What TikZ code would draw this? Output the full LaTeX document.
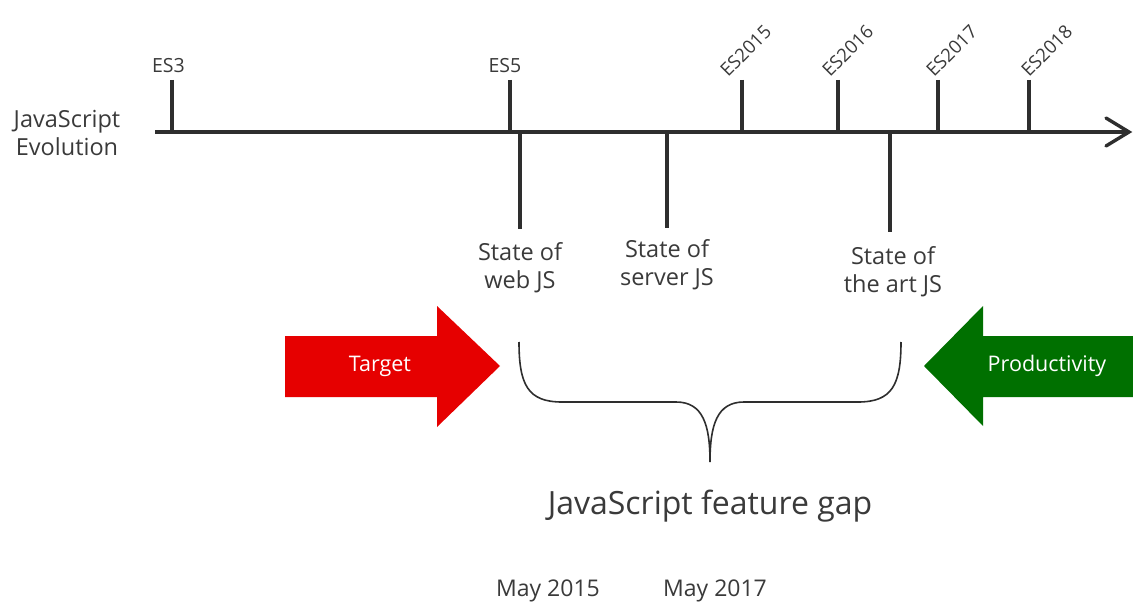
\documentclass[tikz,border=0pt]{standalone}
\usepackage{fontspec}
\setmainfont{Open Sans}
\definecolor{ink}{HTML}{2E2E2E}
\definecolor{txt}{HTML}{3A3A3A}
\definecolor{redarrow}{HTML}{E60000}
\definecolor{greenarrow}{HTML}{007000}
\begin{document}
\begin{tikzpicture}[x=1pt,y=-1pt,
  axisline/.style={draw=ink,line width=3.6pt},
  tickline/.style={draw=ink,line width=3.4pt},
  lbl/.style={text=txt,font=\fontsize{23.5}{28}\selectfont,align=center,inner sep=0pt},
  eslbl/.style={text=txt,font=\fontsize{19.5}{22}\selectfont,inner sep=0pt},
  rotlbl/.style={eslbl,font=\fontsize{18.5}{22}\selectfont,anchor=base west,rotate=45},
  arrowlbl/.style={text=white,font=\fontsize{21.5}{24}\selectfont,inner sep=0pt},
  bracestyle/.style={draw=ink,line width=1.6pt}]
\useasboundingbox[fill=white] (0,0) rectangle (1133,604);
% axis
\coordinate (axs) at (155,132);
\coordinate (axe) at (1129,132);
\draw[axisline] (axs) -- (axe);
\draw[draw=ink,line width=3.4pt,line cap=round,line join=miter] (1106,118) -- (axe) -- (1106,146);
% upper ticks
\foreach \n/\x in {es3/172,es5/510,es15/742,es16/838,es17/938,es18/1029}{
  \coordinate (\n-top) at (\x,80);
  \coordinate (\n-bot) at (\x,132);
  \draw[tickline] (\n-top) -- (\n-bot);
}
\node[eslbl,anchor=base] (l3) at (168.5,73) {ES3};
\node[eslbl,anchor=base] (l5) at (505,73) {ES5};
\node[rotlbl] (l15) at (728,78) {ES2015};
\node[rotlbl] (l16) at (830,78) {ES2016};
\node[rotlbl] (l17) at (934,78) {ES2017};
\node[rotlbl] (l18) at (1029,78) {ES2018};
% left title
\node[lbl,align=center] (title) at (67,133) {JavaScript\\Evolution};
% lower ticks
\foreach \n/\x/\b in {web/520/229,server/667/228,art/890/232}{
  \coordinate (\n-top) at (\x,132);
  \coordinate (\n-bot) at (\x,\b);
  \draw[tickline] (\n-top) -- (\n-bot);
}
\node[lbl] (tweb) at (520,268) {State of\\web JS};
\node[lbl] (tserver) at (667,265) {State of\\server JS};
\node[lbl] (tart) at (893,272) {State of\\the art JS};
% arrows
\fill[redarrow] (285,336) -- (437,336) -- (437,306) -- (500,366) -- (437,427) -- (437,397) -- (285,397) -- cycle;
\node[arrowlbl] (target) at (380,366) {Target};
\fill[greenarrow] (1133,336) -- (983,336) -- (983,306) -- (924,366) -- (983,426) -- (983,397) -- (1133,397) -- cycle;
\node[arrowlbl] (prod) at (1047,366) {Productivity};
% brace
\coordinate (bl) at (519,342);
\coordinate (br) at (901,342);
\coordinate (btip) at (710,462);
\draw[bracestyle] (bl) .. controls (519,385) and (528,402) .. (562,402) -- (676,402)
  .. controls (703,402) and (710,425) .. (btip)
  .. controls (710,425) and (717,402) .. (744,402) -- (858,402)
  .. controls (892,402) and (901,385) .. (br);
\node[text=txt,font=\fontsize{32}{36}\selectfont,inner sep=0pt] (gap) at (710,506) {JavaScript feature gap};
\node[lbl,font=\fontsize{23}{28}\selectfont] (may15) at (548,591) {May 2015};
\node[lbl,font=\fontsize{23}{28}\selectfont] (may17) at (715,591) {May 2017};
\end{tikzpicture}
\end{document}
